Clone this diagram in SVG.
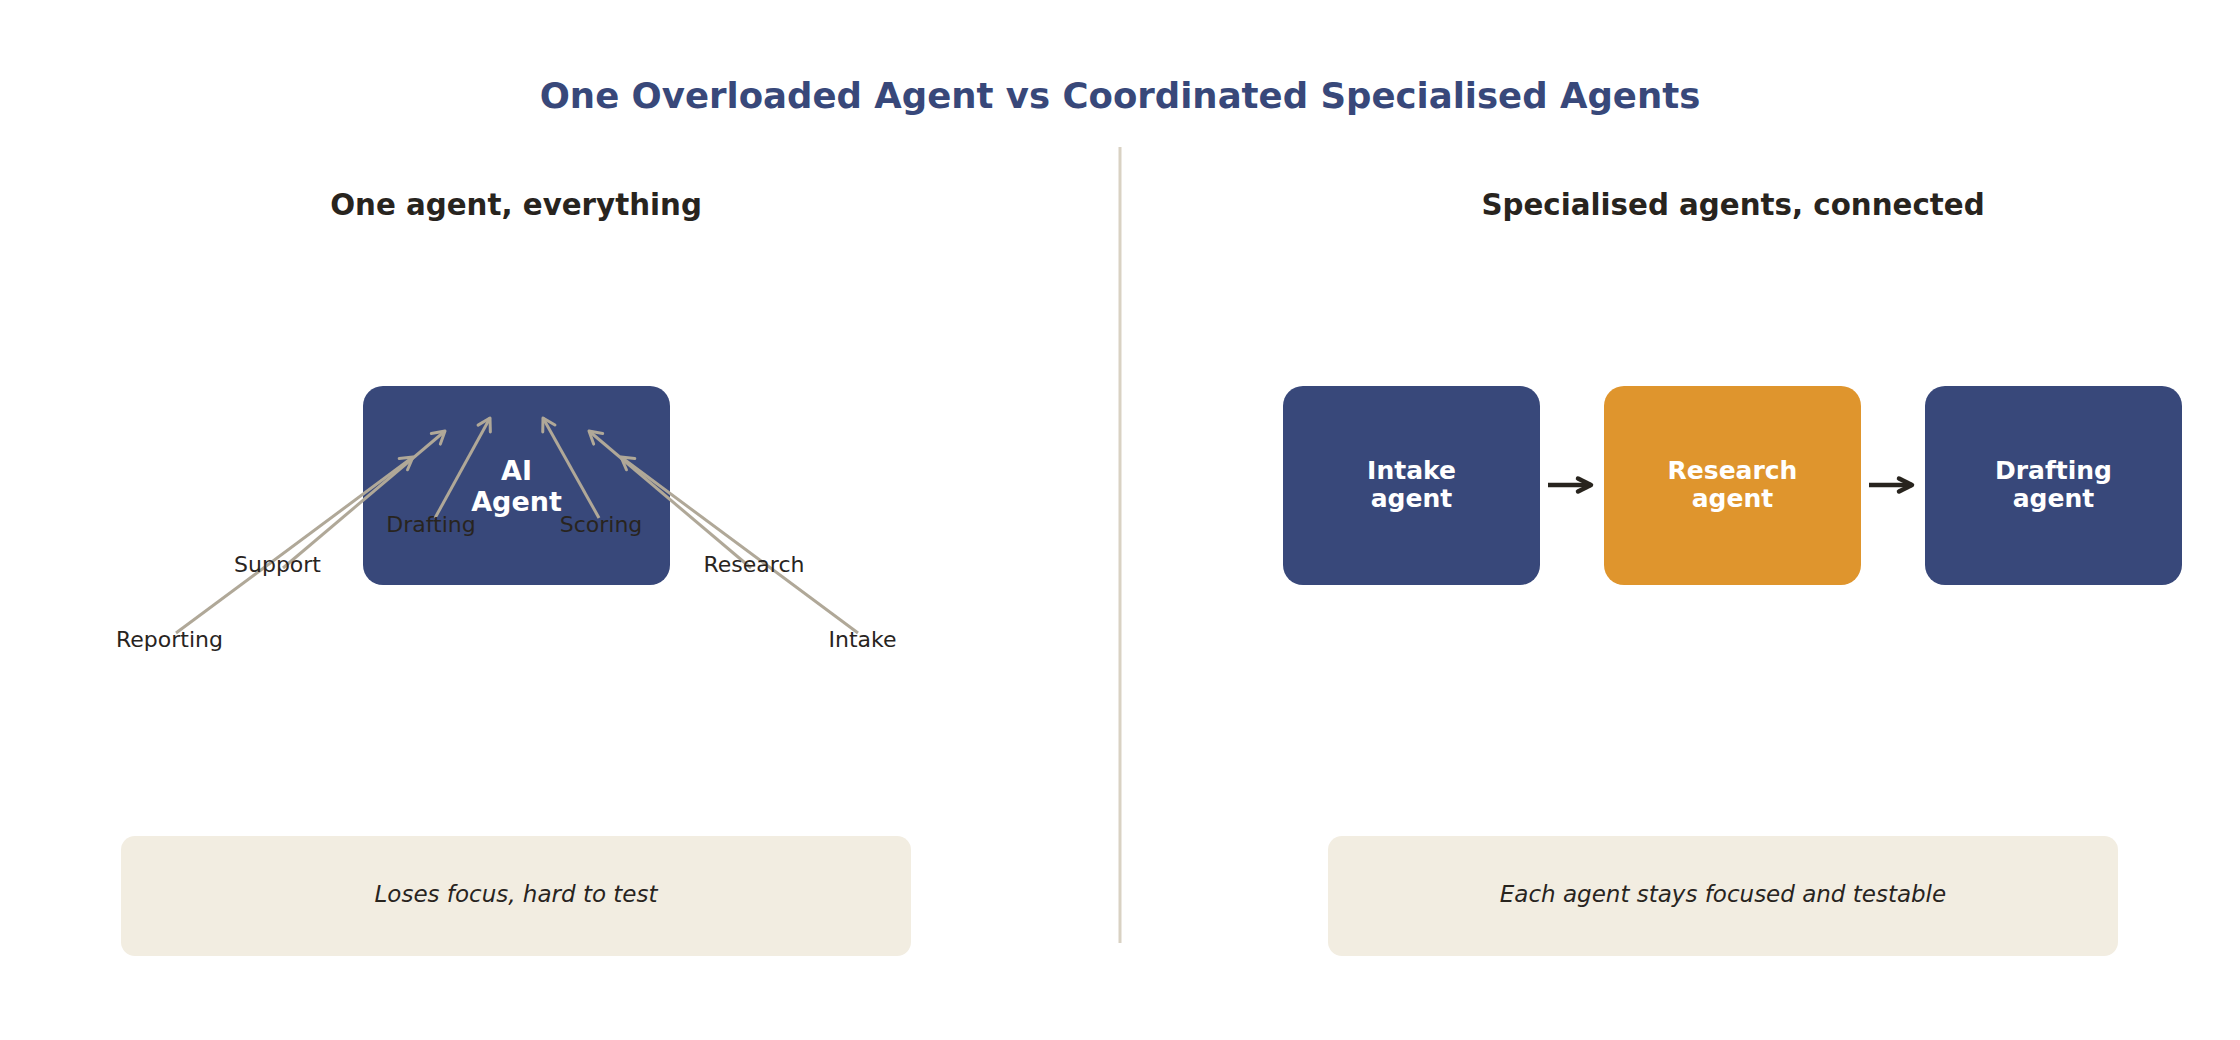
<svg xmlns="http://www.w3.org/2000/svg" width="2240" height="1040" viewBox="0 0 2240 1040">
<style>
text{font-family:"DejaVu Sans","Liberation Sans",sans-serif;}
.title{font-size:35.5px;font-weight:bold;fill:#38487a;text-anchor:middle;}
.sub{font-size:29.3px;font-weight:bold;fill:#28241e;text-anchor:middle;}
.node{fill:#38487a;}
.orange{fill:#df952d;}
.ntext{font-size:25px;font-weight:bold;fill:#ffffff;text-anchor:middle;}
.big{font-size:27px;}
.lbl{font-size:22px;fill:#28241e;text-anchor:middle;}
.cap{fill:#f2ede1;}
.captext{font-size:23px;font-style:italic;fill:#28241e;text-anchor:middle;}
.fan{stroke:#b0a898;stroke-width:3;fill:none;marker-end:url(#ga);}
.flow{stroke:#28241e;stroke-width:4.5;fill:none;marker-end:url(#da);}
</style>
<defs>
<marker id="ga" markerUnits="userSpaceOnUse" viewBox="-16 -10 20 20" refX="0" refY="0" markerWidth="20" markerHeight="20" orient="auto">
<path d="M-12,-7 L0,0 L-12,7" fill="none" stroke="#b0a898" stroke-width="3" stroke-linecap="round" stroke-linejoin="round"/>
</marker>
<marker id="da" markerUnits="userSpaceOnUse" viewBox="-18 -10 22 20" refX="0" refY="0" markerWidth="22" markerHeight="20" orient="auto">
<path d="M-13,-6.5 L0,0 L-13,6.5" fill="none" stroke="#28241e" stroke-width="4.5" stroke-linecap="round" stroke-linejoin="round"/>
</marker>
</defs>
<rect width="2240" height="1040" fill="#ffffff"/>
<text class="title" x="1120" y="108">One Overloaded Agent vs Coordinated Specialised Agents</text>
<line x1="1120" y1="147" x2="1120" y2="943" stroke="#d9d2c3" stroke-width="3"/>
<text class="sub" x="516" y="215">One agent, everything</text>
<text class="sub" x="1733" y="215">Specialised agents, connected</text>

<g id="ai-agent">
<rect class="node" x="363" y="386" width="307" height="199" rx="20"/>
<text class="ntext big" x="516.5" y="479.5">AI</text>
<text class="ntext big" x="516.5" y="510.5">Agent</text>
</g>

<g id="intake-agent">
<rect class="node" x="1283" y="386" width="257" height="199" rx="20"/>
<text class="ntext" x="1411.5" y="479">Intake</text>
<text class="ntext" x="1411.5" y="506.5">agent</text>
</g>
<g id="research-agent">
<rect class="orange" x="1604" y="386" width="257" height="199" rx="20"/>
<text class="ntext" x="1732.5" y="479">Research</text>
<text class="ntext" x="1732.5" y="506.5">agent</text>
</g>
<g id="drafting-agent">
<rect class="node" x="1925" y="386" width="257" height="199" rx="20"/>
<text class="ntext" x="2053.5" y="479">Drafting</text>
<text class="ntext" x="2053.5" y="506.5">agent</text>
</g>

<g id="connectors">
<line class="fan" x1="176" y1="633" x2="413" y2="457"/>
<line class="fan" x1="283" y1="568" x2="445" y2="431"/>
<line class="fan" x1="435" y1="518" x2="490" y2="418"/>
<line class="fan" x1="599" y1="518" x2="543" y2="418"/>
<line class="fan" x1="751" y1="568" x2="589" y2="431"/>
<line class="fan" x1="858" y1="633" x2="621" y2="457"/>
<line class="flow" x1="1548" y1="485" x2="1591" y2="485"/>
<line class="flow" x1="1869" y1="485" x2="1912" y2="485"/>
</g>

<g id="labels">
<text class="lbl" x="169.5" y="647">Reporting</text>
<text class="lbl" x="277.5" y="572">Support</text>
<text class="lbl" x="431" y="532">Drafting</text>
<text class="lbl" x="601" y="532">Scoring</text>
<text class="lbl" x="754" y="572">Research</text>
<text class="lbl" x="862.5" y="647">Intake</text>
</g>

<g id="caption-left">
<rect class="cap" x="121" y="836" width="790" height="120" rx="14"/>
<text class="captext" x="516" y="902">Loses focus, hard to test</text>
</g>
<g id="caption-right">
<rect class="cap" x="1328" y="836" width="790" height="120" rx="14"/>
<text class="captext" x="1723" y="902">Each agent stays focused and testable</text>
</g>
</svg>
